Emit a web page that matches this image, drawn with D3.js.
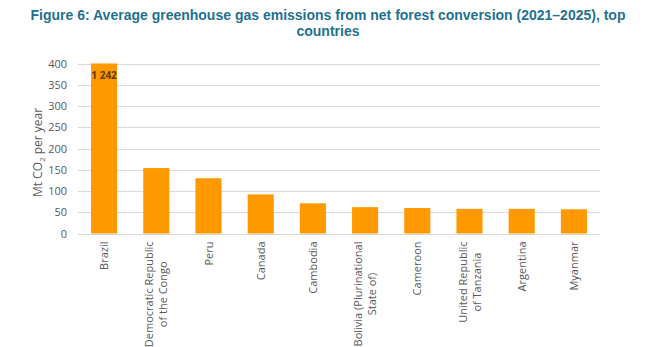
<!DOCTYPE html>
<html><head><meta charset="utf-8">
<script src="https://cdn.jsdelivr.net/npm/d3@7"></script>
<style>body{margin:0;background:#fff}svg{display:block}</style>
</head><body>
<script>
const countries = [
  ["Brazil"],
  ["Democratic Republic", "of the Congo"],
  ["Peru"],
  ["Canada"],
  ["Cambodia"],
  ["Bolivia (Plurinational", "State of)"],
  ["Cameroon"],
  ["United Republic", "of Tanzania"],
  ["Argentina"],
  ["Myanmar"]
];
const values = [1242, 154, 130, 92, 71, 62, 60, 58, 58, 57];
const yTicks = [0, 50, 100, 150, 200, 250, 300, 350, 400];
const valueLabels = ["1 242"];

const W = 648, H = 347;
const svg = d3.select("body").append("svg").attr("width", W).attr("height", H);
const m = {left: 78, right: 48, top: 63.5, bottom: 113.5};

const x = d3.scaleBand().domain(countries.map((d, i) => i)).range([m.left, W - m.right]).paddingInner(0.5).paddingOuter(0.25);
const y = d3.scaleLinear().domain([0, 400]).range([H - m.bottom, m.top]);

const tf = "Liberation Sans Narrow, Liberation Sans, Arial";
svg.append("text").attr("x", 328).attr("y", 20).attr("text-anchor", "middle")
  .attr("font-family", tf).attr("font-weight", "bold")
  .attr("font-size", 14).attr("fill", "#1f7191")
  .text("Figure 6: Average greenhouse gas emissions from net forest conversion (2021\u20132025), top");
svg.append("text").attr("x", 328).attr("y", 36).attr("text-anchor", "middle")
  .attr("font-family", tf).attr("font-weight", "bold")
  .attr("font-size", 14).attr("fill", "#1f7191").text("countries");

// grid
svg.append("g").selectAll("line").data(yTicks).join("line")
  .attr("x1", m.left).attr("x2", W - m.right)
  .attr("y1", d => Math.round(y(d)) + 0.5).attr("y2", d => Math.round(y(d)) + 0.5)
  .attr("stroke", "#d9d9d9").attr("stroke-width", 1);

const yAxis = svg.append("g").attr("transform", `translate(${m.left},0)`)
  .call(d3.axisLeft(y).tickValues(yTicks).tickSize(0).tickPadding(11));
yAxis.select(".domain").remove();
yAxis.selectAll("text").attr("font-family", "Open Sans, Liberation Sans").attr("font-size", 11).attr("fill", "#595959");

// bars
svg.append("g").selectAll("rect").data(values).join("rect")
  .attr("x", (d, i) => x(i)).attr("width", x.bandwidth())
  .attr("y", d => y(Math.min(d, 400))).attr("height", d => y(0) - y(Math.min(d, 400)))
  .attr("fill", "#ff9900");

svg.append("text").attr("x", x(0) + x.bandwidth() / 2).attr("y", y(400) + 15)
  .attr("text-anchor", "middle").attr("font-family", "Open Sans, Liberation Sans")
  .attr("font-weight", "bold").attr("font-size", 10).attr("fill", "#5a3a0a").text(valueLabels[0]);

// x labels
const xl = svg.append("g");
countries.forEach((lines, i) => {
  const cx = x(i) + x.bandwidth() / 2;
  const n = lines.length;
  const g = xl.append("g");
  const texts = lines.map((t, j) => g.append("text")
      .attr("font-family", "Open Sans, Liberation Sans").attr("font-size", 11).attr("fill", "#595959")
      .attr("text-anchor", "middle").text(t));
  const maxLen = d3.max(texts, t => t.node().getComputedTextLength());
  texts.forEach((t, j) => {
    const off = (j - (n - 1) / 2) * 14;
    t.attr("transform", `translate(${cx + off + 4},${y(0) + 8 + maxLen / 2}) rotate(-90)`);
  });
});

// y label
const yl = svg.append("text").attr("transform", `translate(42,${(y(0) + y(400)) / 2 + 4}) rotate(-90)`)
  .attr("text-anchor", "middle").attr("font-family", "Open Sans, Liberation Sans")
  .attr("font-size", 12).attr("fill", "#595959");
yl.append("tspan").text("Mt CO");
yl.append("tspan").attr("font-size", 8).attr("dy", 3).text("2");
yl.append("tspan").attr("dy", -3).text(" per year");
</script>
</body></html>
